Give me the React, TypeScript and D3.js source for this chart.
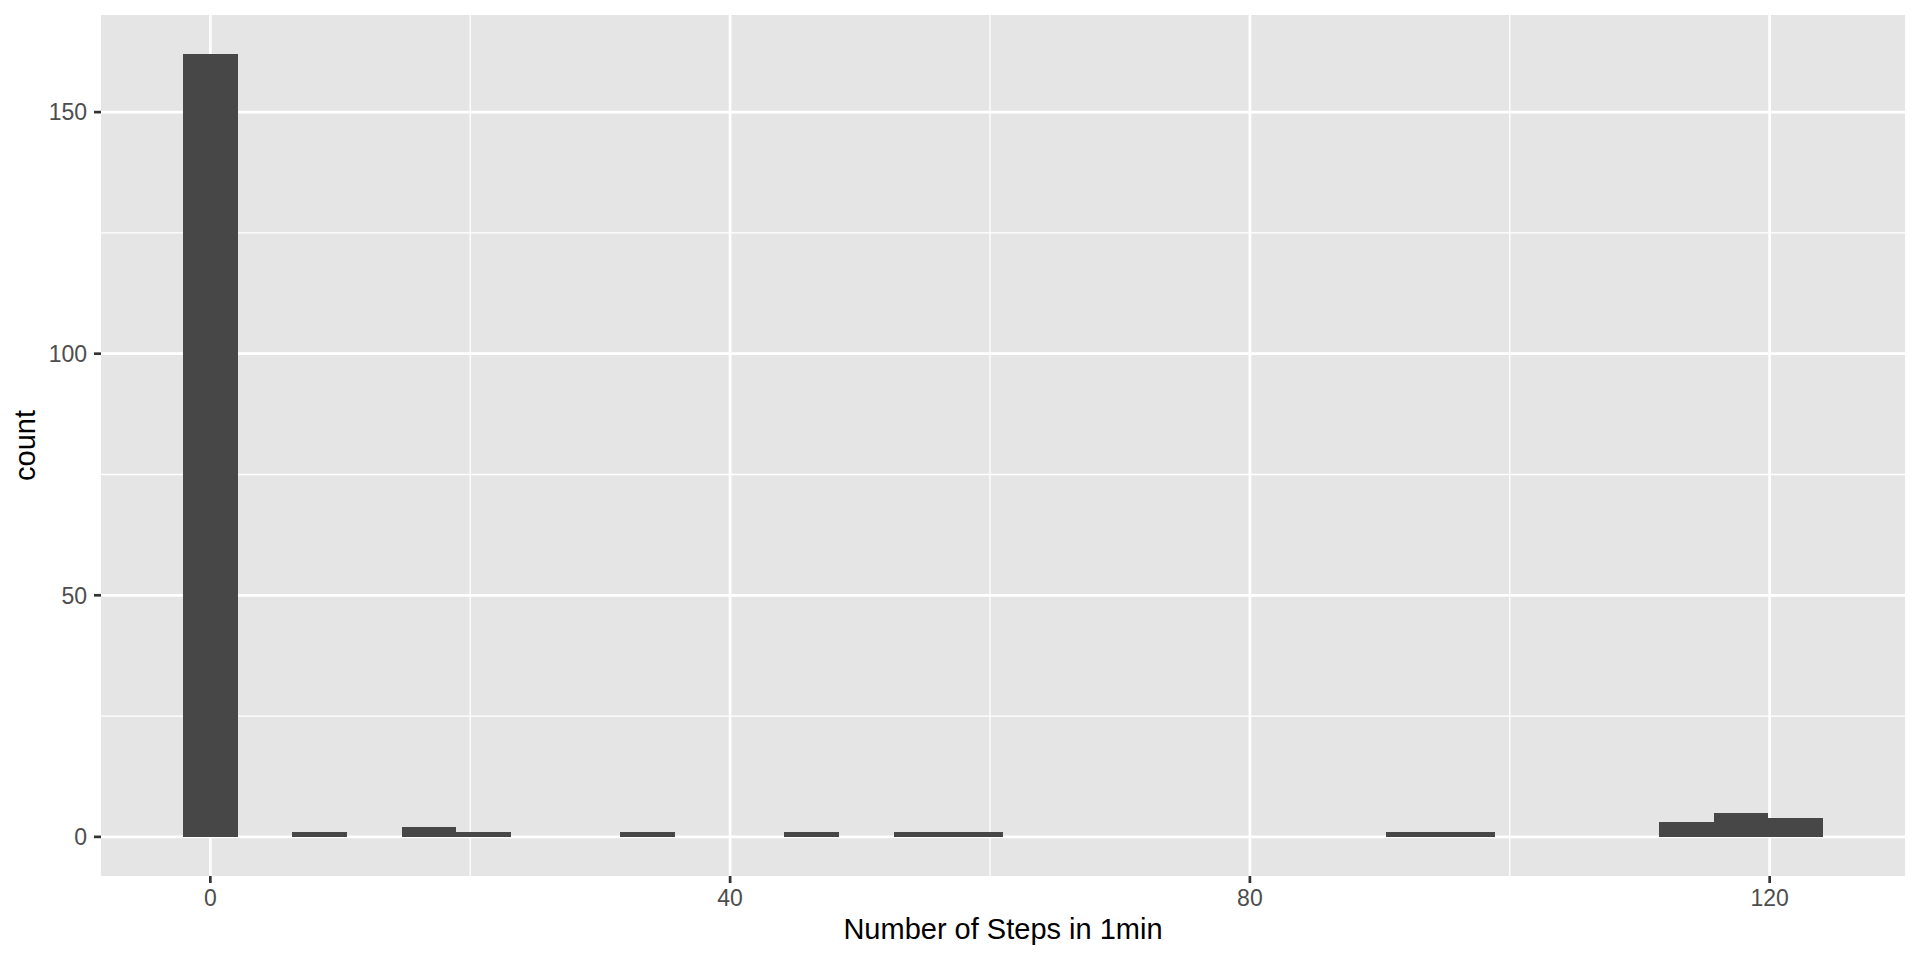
import { useEffect, useRef } from 'react';
import { select, scaleLinear } from 'd3';

// observed range of steps, ggplot default 30 bins
const stepMin = 0;
const stepMax = 122;
const binTotal = 30;
const binCounts = [
  162, 0, 1, 0, 2, 1, 0, 0, 1, 0, 0, 1, 0, 1, 1, 0, 0, 0, 0, 0, 0, 0, 1, 1, 0,
  0, 0, 3, 5, 4,
];
const xMajor = [0, 40, 80, 120];
const xMinor = [20, 60, 100];
const yMajor = [0, 50, 100, 150];
const yMinor = [25, 75, 125];

const W = 1920;
const H = 960;
const panel = { left: 101, right: 1905, top: 15, bottom: 876 };
const font = '"Liberation Sans", Arial, sans-serif';

const App = () => {
  const svgRef = useRef<SVGSVGElement>(null);

  useEffect(() => {
    if (!svgRef.current) return;
    const svg = select(svgRef.current);
    svg.selectAll('*').remove();

    const binWidth = (stepMax - stepMin) / (binTotal - 1);
    const bins = binCounts.map((c, i) => ({
      x0: stepMin + (i - 0.5) * binWidth,
      x1: stepMin + (i + 0.5) * binWidth,
      count: c,
    }));

    const xLo = bins[0].x0;
    const xHi = bins[bins.length - 1].x1;
    const xPad = (xHi - xLo) * 0.05;
    const yMax = Math.max(...binCounts);
    const yPad = yMax * 0.05;

    const x = scaleLinear()
      .domain([xLo - xPad, xHi + xPad])
      .range([panel.left, panel.right]);
    const y = scaleLinear()
      .domain([-yPad, yMax + yPad])
      .range([panel.bottom, panel.top]);

    svg
      .append('rect')
      .attr('x', panel.left)
      .attr('y', panel.top)
      .attr('width', panel.right - panel.left)
      .attr('height', panel.bottom - panel.top)
      .attr('fill', '#E5E5E5');

    const grid = svg.append('g').attr('stroke', '#fff');
    grid
      .selectAll('line.xmin')
      .data(xMinor)
      .join('line')
      .attr('x1', (d) => x(d))
      .attr('x2', (d) => x(d))
      .attr('y1', panel.top)
      .attr('y2', panel.bottom)
      .attr('stroke-width', 1.3);
    grid
      .selectAll('line.ymin')
      .data(yMinor)
      .join('line')
      .attr('x1', panel.left)
      .attr('x2', panel.right)
      .attr('y1', (d) => y(d))
      .attr('y2', (d) => y(d))
      .attr('stroke-width', 1.3);
    grid
      .selectAll('line.xmaj')
      .data(xMajor)
      .join('line')
      .attr('x1', (d) => x(d))
      .attr('x2', (d) => x(d))
      .attr('y1', panel.top)
      .attr('y2', panel.bottom)
      .attr('stroke-width', 2.7);
    grid
      .selectAll('line.ymaj')
      .data(yMajor)
      .join('line')
      .attr('x1', panel.left)
      .attr('x2', panel.right)
      .attr('y1', (d) => y(d))
      .attr('y2', (d) => y(d))
      .attr('stroke-width', 2.7);

    svg
      .append('g')
      .attr('shape-rendering', 'crispEdges')
      .selectAll('rect')
      .data(bins.filter((b) => b.count > 0))
      .join('rect')
      .attr('x', (d) => x(d.x0))
      .attr('width', (d) => x(d.x1) - x(d.x0))
      .attr('y', (d) => y(d.count))
      .attr('height', (d) => y(0) - y(d.count))
      .attr('fill', '#474747');

    // x axis
    const xAxis = svg.append('g');
    xAxis
      .selectAll('line')
      .data(xMajor)
      .join('line')
      .attr('x1', (d) => x(d))
      .attr('x2', (d) => x(d))
      .attr('y1', panel.bottom)
      .attr('y2', panel.bottom + 7)
      .attr('stroke', '#333')
      .attr('stroke-width', 2.7);
    xAxis
      .selectAll('text')
      .data(xMajor)
      .join('text')
      .attr('x', (d) => x(d))
      .attr('y', 906)
      .attr('text-anchor', 'middle')
      .attr('font-family', font)
      .attr('font-size', 23)
      .attr('fill', '#4D4D4D')
      .text((d) => d);

    // y axis
    const yAxis = svg.append('g');
    yAxis
      .selectAll('line')
      .data(yMajor)
      .join('line')
      .attr('x1', panel.left - 7)
      .attr('x2', panel.left)
      .attr('y1', (d) => y(d))
      .attr('y2', (d) => y(d))
      .attr('stroke', '#333')
      .attr('stroke-width', 2.7);
    yAxis
      .selectAll('text')
      .data(yMajor)
      .join('text')
      .attr('x', 87)
      .attr('y', (d) => y(d))
      .attr('dy', '0.36em')
      .attr('text-anchor', 'end')
      .attr('font-family', font)
      .attr('font-size', 23)
      .attr('fill', '#4D4D4D')
      .text((d) => d);

    svg
      .append('text')
      .attr('x', (panel.left + panel.right) / 2)
      .attr('y', 939)
      .attr('text-anchor', 'middle')
      .attr('font-family', font)
      .attr('font-size', 29)
      .attr('fill', '#000')
      .text('Number of Steps in 1min');

    svg
      .append('text')
      .attr(
        'transform',
        `translate(35, ${(panel.top + panel.bottom) / 2}) rotate(-90)`,
      )
      .attr('text-anchor', 'middle')
      .attr('font-family', font)
      .attr('font-size', 29)
      .attr('fill', '#000')
      .text('count');
  }, []);

  return (
    <svg
      ref={svgRef}
      width={W}
      height={H}
      style={{ position: 'absolute', left: 0, top: 0, background: '#fff' }}
    />
  );
};

export default App;
